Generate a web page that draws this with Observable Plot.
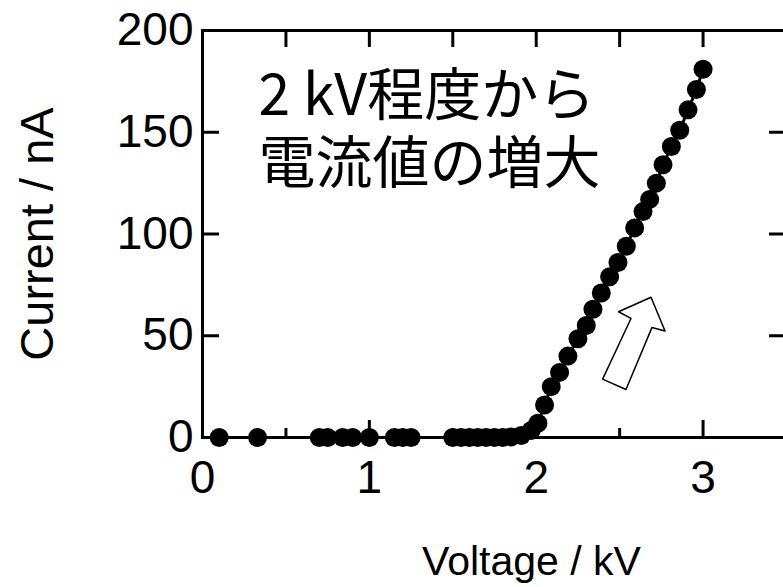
<!DOCTYPE html>
<html>
<head>
<meta charset="utf-8">
<script src="https://cdn.jsdelivr.net/npm/d3@7"></script>
<script src="https://cdn.jsdelivr.net/npm/@observablehq/plot@0.6"></script>
<style>
  html, body { margin: 0; padding: 0; background: #fff; overflow: hidden; }
  #chart svg { display: block; }
</style>
</head>
<body>
<div id="chart"></div>
<script>
// ---- data ----
const voltage = [0.10, 0.33, 0.70, 0.75, 0.84, 0.90, 1.00, 1.15, 1.20, 1.25,
  1.50, 1.55, 1.60, 1.65, 1.70, 1.75, 1.80, 1.85,
  1.91, 1.97, 2.01, 2.05, 2.09, 2.14, 2.19, 2.25, 2.30, 2.34, 2.39, 2.44, 2.49,
  2.54, 2.59, 2.64, 2.68, 2.72, 2.76, 2.81, 2.86, 2.91, 2.96, 3.00];
const current = [0, 0, 0, 0, 0, 0, 0, 0, 0, 0,
  0, 0, 0, 0, 0, 0, 0, 0.3,
  1, 3.4, 7, 16, 25, 32, 40, 48.5, 55, 63, 71, 79, 86,
  94, 103, 111, 117, 125, 134, 143, 151, 161, 171, 181];

const xTickLabels = [0, 1, 2, 3];
const xMajorTicks = [1, 2, 3];
const xMinorTicks = [0.5, 1.5, 2.5];
const xTopTicks = [0.5, 1, 1.5, 2, 2.5, 3];
const yTickLabels = [0, 50, 100, 150, 200];
const yInnerTicks = [50, 100, 150];

const xLabel = "Voltage / kV";
const yLabel = "Current / nA";
const annotationLine1 = "2 kV程度から";
const annotationLine2 = "電流値の増大";

// outline arrow (annotation), in data units
const arrowX = [2.688, 2.772, 2.694, 2.538, 2.398, 2.568, 2.493, 2.688];
const arrowY = [68.9, 52.3, 54.1, 23.6, 28.7, 58.5, 61.8, 68.9];

const points = voltage.map((v, i) => ({v, c: current[i]}));
const arrow = arrowX.map((x, i) => ({x, y: arrowY[i]}));

const W = 783, H = 587;
const mL = 202, mR = -3, mT = 30, mB = 150;
const plotW = W - mL - mR, plotH = H - mT - mB;
const majorLen = 17, minorLen = 9;
const sans = "'Liberation Sans', Arial, sans-serif";
const cjk = "'Noto Sans CJK JP', sans-serif";

const chart = Plot.plot({
  width: W,
  height: H,
  marginLeft: mL,
  marginRight: mR,
  marginTop: mT,
  marginBottom: mB,
  style: {background: "#fff", fontFamily: sans, color: "#000"},
  x: {domain: [0, 3.5], axis: null},
  y: {domain: [0, 200], axis: null},
  marks: [
    // inward ticks
    Plot.ruleX(xMajorTicks, {x: d => d, insetTop: plotH - majorLen, stroke: "#000", strokeWidth: 3}),
    Plot.ruleX(xMinorTicks, {x: d => d, insetTop: plotH - minorLen, stroke: "#000", strokeWidth: 3}),
    Plot.ruleX(xTopTicks, {x: d => d, insetBottom: plotH - majorLen, stroke: "#000", strokeWidth: 3}),
    Plot.ruleY(yInnerTicks, {y: d => d, insetRight: plotW - majorLen, stroke: "#000", strokeWidth: 3}),
    Plot.ruleY(yInnerTicks, {y: d => d, insetLeft: plotW - majorLen, stroke: "#000", strokeWidth: 3}),
    Plot.frame({stroke: "#000", strokeWidth: 3}),
    // tick labels
    Plot.axisX(xTickLabels, {tickSize: 0, tickPadding: 23, fontSize: 46, fontFamily: sans, tickFormat: d => String(d), label: null}),
    Plot.axisY(yTickLabels, {tickSize: 0, tickPadding: 9, fontSize: 46, fontFamily: sans, tickFormat: d => String(d), label: null}),
    // axis titles
    Plot.text([yLabel], {text: d => d, frameAnchor: "left", dx: -165, rotate: -90, fontSize: 47, fontFamily: sans, textAnchor: "middle", lineAnchor: "middle", fill: "#000"}),
    Plot.text([xLabel], {text: d => d, frameAnchor: "bottom", dx: 37, dy: 124, fontSize: 41, fontFamily: sans, textAnchor: "middle", lineAnchor: "middle", fill: "#000"}),
    // data
    Plot.line(points, {x: "v", y: "c", stroke: "#000", strokeWidth: 3}),
    Plot.dot(points, {x: "v", y: "c", r: 9.5, fill: "#000", stroke: "none"}),
    // annotation
    Plot.line(arrow, {x: "x", y: "y", stroke: "#000", strokeWidth: 1.5, fill: "#fff", curve: "linear"}),
    Plot.text([annotationLine1], {text: d => d, frameAnchor: "top-left", dx: 56, dy: 44, fontSize: 57,
      fontFamily: cjk, textAnchor: "start", lineAnchor: "top", fill: "#000"}),
    Plot.text([annotationLine2], {text: d => d, frameAnchor: "top-left", dx: 56, dy: 112, fontSize: 57,
      fontFamily: cjk, textAnchor: "start", lineAnchor: "top", fill: "#000"})
  ]
});
document.getElementById("chart").appendChild(chart);
</script>
</body>
</html>
